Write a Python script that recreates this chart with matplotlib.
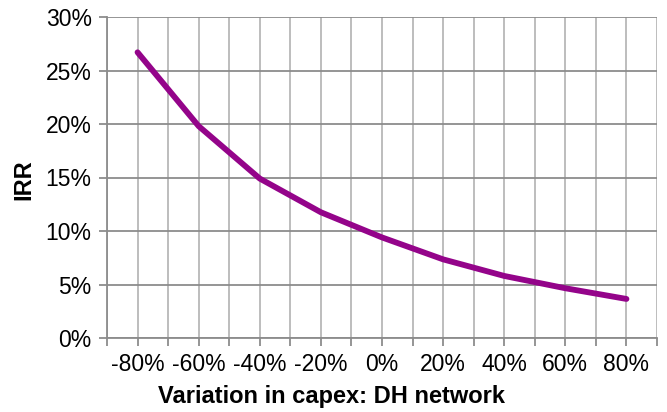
import matplotlib
matplotlib.use("Agg")
import matplotlib.pyplot as plt

plt.rcParams['font.family'] = ['Liberation Sans', 'DejaVu Sans']

capex_variation = [-80, -60, -40, -20, 0, 20, 40, 60, 80]
irr = [26.7, 19.8, 14.9, 11.75, 9.4, 7.35, 5.8, 4.65, 3.65]
x_tick_labels = ['-80%', '-60%', '-40%', '-20%', '0%', '20%', '40%', '60%', '80%']
y_ticks = [0, 5, 10, 15, 20, 25, 30]

fig = plt.figure(figsize=(6.67, 4.12), dpi=100)
ax = fig.add_axes([107/667, 1-338/412, 550/667, 321/412])

ax.plot(capex_variation, irr, color='#94048A', linewidth=4.2, solid_capstyle='round', zorder=3)

ax.set_xlim(-90, 90)
ax.set_ylim(0, 30)
ax.set_xticks(capex_variation)
ax.set_xticklabels(x_tick_labels)
ax.set_xticks(range(-90, 91, 10), minor=True)
ax.set_yticks(y_ticks)
ax.set_yticklabels([f'{v}%' for v in y_ticks])

ax.grid(True, which='major', axis='y', color='#8c8c8c', linewidth=1.3)
ax.grid(True, which='both', axis='x', color='#b8b8b8', linewidth=1.3)
ax.set_axisbelow(True)

for s in ['top', 'right']:
    ax.spines[s].set_visible(False)
for s in ['left', 'bottom']:
    ax.spines[s].set_color('#8c8c8c')
    ax.spines[s].set_linewidth(1.3)

ax.tick_params(axis='both', which='both', color='#8c8c8c', width=1.3, length=6, labelsize=16.5, labelcolor='black')
ax.tick_params(axis='x', which='major', pad=5)
ax.tick_params(axis='y', pad=5)

ax.set_xlabel('Variation in capex: DH network', fontsize=17, fontweight='bold')
ax.xaxis.set_label_coords((332-107)/550, (338-396)/321)
ax.xaxis.label.set_verticalalignment('center')
ax.set_ylabel('IRR', fontsize=17, fontweight='bold')
ax.yaxis.set_label_coords((24-107)/550, (338-180)/321)
ax.yaxis.label.set_verticalalignment('center')

fig.savefig('out.png', dpi=100)
